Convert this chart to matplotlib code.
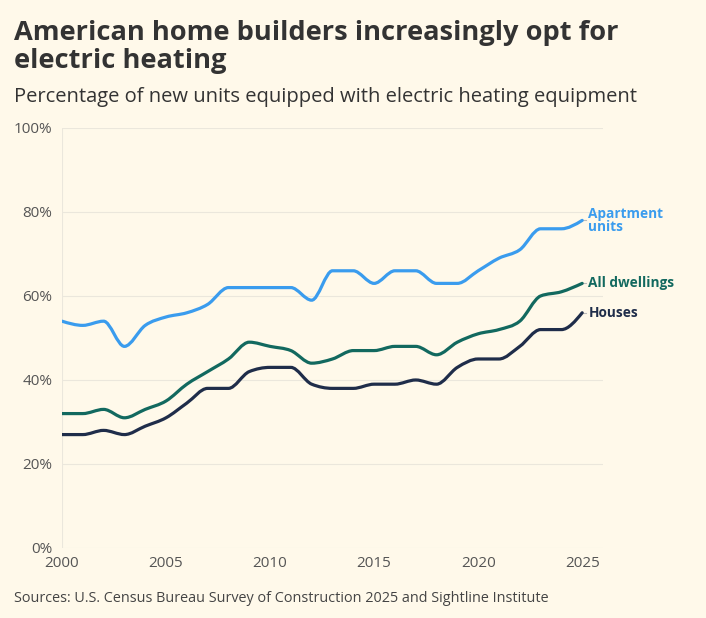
import numpy as np
import matplotlib
matplotlib.use("Agg")
import matplotlib.pyplot as plt
from matplotlib.path import Path
from matplotlib.patches import PathPatch

# ---------------------------------------------------------------
years = list(range(2000, 2026))
apartments = [54, 53, 54, 48, 53, 55, 56, 58, 62, 62, 62, 62, 59, 66, 66,
              63, 66, 66, 63, 63, 66, 69, 71, 76, 76, 78]
all_dwellings = [32, 32, 33, 31, 33, 35, 39, 42, 45, 49, 48, 47, 44, 45, 47,
                 47, 48, 48, 46, 49, 51, 52, 54, 60, 61, 63]
houses = [27, 27, 28, 27, 29, 31, 34.5, 38, 38, 42, 43, 43, 39, 38, 38,
          39, 39, 40, 39, 43, 45, 45, 48, 52, 52, 56]
y_ticks = [0, 20, 40, 60, 80, 100]
x_ticks = [2000, 2005, 2010, 2015, 2020, 2025]
# ---------------------------------------------------------------

BG = "#fff9ea"
FONT = "Open Sans"
plt.rcParams['font.family'] = [FONT, 'DejaVu Sans']


def monotone_path(x, y):
    # same curve shape as a d3 monotoneX line: cubic beziers between points
    x = np.asarray(x, float)
    y = np.asarray(y, float)
    n = len(x)
    h = np.diff(x)
    s = np.diff(y) / h
    t = np.zeros(n)
    for i in range(1, n - 1):
        p = (s[i - 1] * h[i] + s[i] * h[i - 1]) / (h[i - 1] + h[i])
        t[i] = (np.sign(s[i - 1]) + np.sign(s[i])) * min(abs(s[i - 1]), abs(s[i]), 0.5 * abs(p))
    t[0] = (3 * s[0] - t[1]) / 2
    t[-1] = (3 * s[-1] - t[-2]) / 2
    verts = [(x[0], y[0])]
    codes = [Path.MOVETO]
    for i in range(n - 1):
        dx = (x[i + 1] - x[i]) / 3
        verts += [(x[i] + dx, y[i] + dx * t[i]),
                  (x[i + 1] - dx, y[i + 1] - dx * t[i + 1]),
                  (x[i + 1], y[i + 1])]
        codes += [Path.CURVE4] * 3
    return Path(verts, codes)


fig = plt.figure(figsize=(7.06, 6.18), dpi=100, facecolor=BG)
ax = fig.add_axes([0.0878, 0.1133, 0.7663, 0.6796], facecolor=BG)

series = [
    (houses, "#1f2d4a", "Houses"),
    (all_dwellings, "#12695f", "All dwellings"),
    (apartments, "#3a9cee", "Apartment\nunits"),
]
for vals, col, name in series:
    ax.add_patch(PathPatch(monotone_path(years, vals), facecolor="none",
                           edgecolor=col, lw=2.3, capstyle="round", zorder=3))

ax.set_xlim(2000, 2026)
ax.set_ylim(0, 100)
for v in y_ticks:
    ax.axhline(v, color="#ebe7dc", lw=0.8, zorder=1)
ax.axvline(2000, color="#ebe7dc", lw=0.8, zorder=1)
for sp in ax.spines.values():
    sp.set_visible(False)
ax.set_yticks(y_ticks)
ax.set_yticklabels([f"{v}%" for v in y_ticks])
ax.set_xticks(x_ticks)
ax.set_xticklabels([str(v) for v in x_ticks])
ax.tick_params(length=0, labelsize=11, labelcolor="#555555")
ax.tick_params(axis="y", pad=7)
ax.tick_params(axis="x", pad=6)

# end labels, next to the last point of each line
for vals, col, name in series:
    ax.plot([2025.05, 2025.2], [vals[-1], vals[-1]], color="#bbbbbb", lw=0.8, clip_on=False)
    ax.text(2025.3, vals[-1], name, color=col, fontsize=9.8, fontweight="bold",
            va="center", ha="left", linespacing=0.95, clip_on=False)

fig.text(0.02, 0.968, "American home builders increasingly opt for\nelectric heating",
         fontsize=19.6, fontweight="bold", color="#333333", va="top", ha="left",
         linespacing=1.12)
fig.text(0.02, 0.843, "Percentage of new units equipped with electric heating equipment",
         fontsize=14.5, color="#333333", va="center", ha="left")
fig.text(0.02, 0.032, "Sources: U.S. Census Bureau Survey of Construction 2025 and Sightline Institute",
         fontsize=10.4, color="#444444", va="center", ha="left")

fig.savefig("out.png", dpi=100, facecolor=BG)
